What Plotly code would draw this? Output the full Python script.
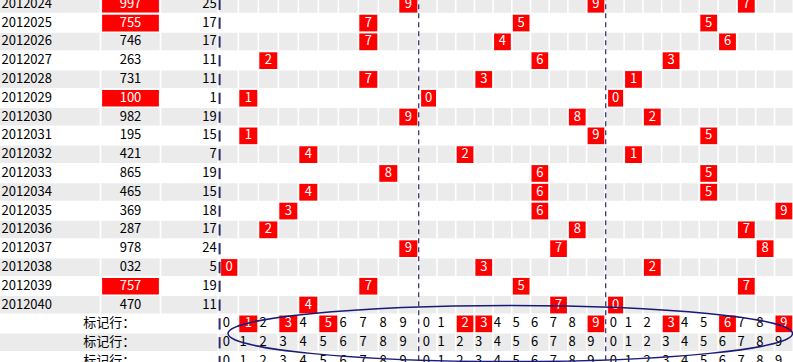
import plotly.graph_objects as go

# ---------------- data ----------------
issues = ["2012024", "2012025", "2012026", "2012027", "2012028", "2012029",
          "2012030", "2012031", "2012032", "2012033", "2012034", "2012035",
          "2012036", "2012037", "2012038", "2012039", "2012040"]
numbers = ["997", "755", "746", "263", "731", "100", "982", "195", "421",
           "865", "465", "369", "287", "978", "032", "757", "470"]
sums = [25, 17, 17, 11, 11, 1, 19, 15, 7, 19, 15, 18, 17, 24, 5, 19, 11]
# numbers drawn in a red box (those with a repeated digit)
highlighted = ["997", "755", "100", "757"]
digit_labels = ["0", "1", "2", "3", "4", "5", "6", "7", "8", "9"]
mark_label = "标记行："
# red digits in each of the three marker rows, per position group
mark_red = [
    [[1, 3, 5], [2, 3, 9], [3, 6, 9]],
    [[], [], []],
    [[], [], []],
]

# ---------------- layout constants ----------------
W, H = 793, 362
ROW_PX = 18.8
TOP_PX = -4.8
PX = 1.0 / ROW_PX  # one pixel in row units
COL_A = (0.0, 100.5)
COL_B = (100.5, 160.5)
COL_C = (160.5, 218.3)
GROUPS = [(218.3, 20.0), (418.3, 18.7), (605.3, 18.8)]
GRAY = "#ebebeb"
RED = "#ff0000"
NAVY = "#1a1a78"
FONT = "Noto Sans CJK SC"
FS = 13

n_data = len(issues)
n_rows = n_data + len(mark_red)


def cell(g, k):
    left, w = GROUPS[g]
    return left + k * w, left + (k + 1) * w


shapes = []
# striped rows
for r in range(n_rows):
    if r % 2 == 0:
        shapes.append(dict(type="rect", xref="x", yref="y", x0=0, x1=W,
                           y0=r, y1=r + 1 - 1.3 * PX, fillcolor=GRAY,
                           line=dict(width=0), layer="below"))
# white cell separators
for xb in [COL_A[1], COL_B[1]]:
    shapes.append(dict(type="line", xref="x", yref="y", x0=xb, x1=xb,
                       y0=0, y1=n_data, line=dict(color="white", width=1.6),
                       layer="below"))
for g in range(3):
    for k in range(10):
        x0, x1 = cell(g, k)
        shapes.append(dict(type="line", xref="x", yref="y", x0=x1, x1=x1,
                           y0=0, y1=n_rows, line=dict(color="white", width=1.6),
                           layer="below"))
shapes.append(dict(type="line", xref="x", yref="y", x0=COL_C[1], x1=COL_C[1],
                   y0=0, y1=n_rows, line=dict(color="white", width=1.6),
                   layer="below"))


def red_box(x0, x1, r, lpad=1.0, rpad=1.0):
    shapes.append(dict(type="rect", xref="x", yref="y",
                       x0=x0 + lpad, x1=x1 - rpad,
                       y0=r + 0.7 * PX, y1=r + 1 - 1.4 * PX,
                       fillcolor=RED, line=dict(width=0), layer="below"))


# text collections
tx, ty, tt, tc, tp = [], [], [], [], []


def add_text(x, r, s, color="black", pos="middle center"):
    tx.append(x)
    ty.append(r + 0.5)
    tt.append(s)
    tc.append(color)
    tp.append(pos)


for r in range(n_data):
    add_text(COL_A[0] + 1.5, r, issues[r], pos="middle right")
    num = numbers[r]
    if num in highlighted:
        red_box(COL_B[0], COL_B[1], r, 1.6, 1.6)
        add_text((COL_B[0] + COL_B[1]) / 2, r, num, "white")
    else:
        add_text((COL_B[0] + COL_B[1]) / 2, r, num)
    add_text(COL_C[1] - 1.5, r, str(sums[r]), pos="middle left")
    for g in range(3):
        d = int(num[g])
        x0, x1 = cell(g, d)
        lp = 2.8 if d == 0 else 1.0
        red_box(x0, x1, r, lp, 1.0)
        add_text((x0 + lp + x1 - 1.0) / 2, r, digit_labels[d], "white")

for m, reds in enumerate(mark_red):
    r = n_data + m
    add_text((COL_A[0] + COL_C[1]) / 2, r, mark_label)
    for g in range(3):
        for k in range(10):
            x0, x1 = cell(g, k)
            if k in reds[g]:
                lp = 2.8 if k == 0 else 1.0
                red_box(x0, x1, r, lp, 1.0)
                add_text((x0 + lp + x1 - 1.0) / 2, r, digit_labels[k], "white")
            else:
                off = 4.5 if k == 0 else (1.2 if g == 0 else 0.6)
                add_text(x0 + off, r, digit_labels[k], pos="middle right")

# dashed separators
for r in range(n_rows):
    shapes.append(dict(type="line", xref="x", yref="y", x0=219.6, x1=219.6,
                       y0=r + 3.5 * PX, y1=r + 1 - 4.0 * PX,
                       line=dict(color="#2b2b6e", width=2), layer="below"))
for g in (1, 2):
    xb = GROUPS[g][0] + 0.4
    shapes.append(dict(type="line", xref="x", yref="y", x0=xb, x1=xb,
                       y0=0, y1=n_rows, line=dict(color="#2b2b6e", width=1.2,
                                                  dash="5px,4px"),
                       layer="below"))

# ellipse around the marker rows
shapes.append(dict(type="circle", xref="x", yref="y", x0=228, x1=792.5,
                   y0=n_data - 0.5, y1=n_data + 2.49,
                   line=dict(color=NAVY, width=1.5), layer="above"))

fig = go.Figure()
fig.add_trace(go.Scatter(x=tx, y=ty, text=tt, mode="text",
                         textposition=tp,
                         textfont=dict(family=FONT, size=FS, color=tc),
                         hoverinfo="skip", showlegend=False, cliponaxis=False))

fig.update_layout(
    width=W, height=H,
    margin=dict(l=0, r=0, t=0, b=0),
    paper_bgcolor="white", plot_bgcolor="white",
    shapes=shapes,
    xaxis=dict(range=[0, W], visible=False, fixedrange=True),
    yaxis=dict(range=[(H - TOP_PX) / ROW_PX, (0 - TOP_PX) / ROW_PX],
               visible=False, fixedrange=True),
    showlegend=False,
)

fig.write_html(
    "out.html",
    config={"displayModeBar": False, "staticPlot": True},
    post_script="document.body.style.margin='0';"
                "document.body.style.overflow='hidden';",
)
